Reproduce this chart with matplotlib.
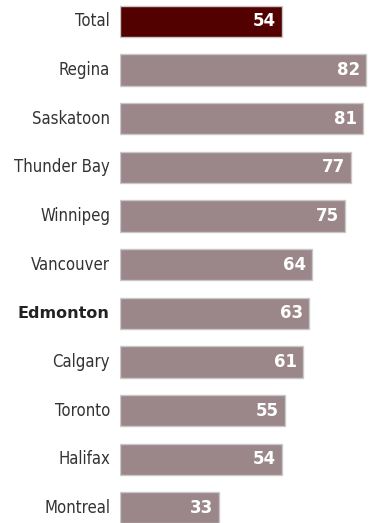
import matplotlib
matplotlib.use('Agg')
import matplotlib.pyplot as plt

cities = ['Total', 'Regina', 'Saskatoon', 'Thunder Bay', 'Winnipeg', 'Vancouver',
          'Edmonton', 'Calgary', 'Toronto', 'Halifax', 'Montreal']
values = [54, 82, 81, 77, 75, 64, 63, 61, 55, 54, 33]

fig = plt.figure(figsize=(3.76, 5.23), dpi=100)
ax = fig.add_axes([120 / 376, 0, 1 - 120 / 376, 1])

colors = ['#520000' if c == 'Total' else '#9b8689' for c in cities]
pos = list(range(len(cities)))
ax.barh(pos, values, height=0.64, color=colors, edgecolor='#c8c8c8', linewidth=1)

ax.set_xlim(0, 256 / 3)
ax.set_ylim(10.31, -0.44)
ax.axis('off')

for p, c, v in zip(pos, cities, values):
    if c == 'Edmonton':
        ax.text(-3.5, p, c, ha='right', va='center', fontsize=11.5, fontweight='bold',
                family='DejaVu Sans', fontstretch='normal', color='#222222')
    else:
        ax.text(-3.3, p, c, ha='right', va='center', fontsize=12,
                family='DejaVu Sans', fontstretch='condensed', color='#333333')
    ax.text(v - 2, p, str(v), ha='right', va='center', fontsize=12, fontweight='bold',
            family='DejaVu Sans', fontstretch='normal', color='white')

fig.savefig('out.png', dpi=100)
